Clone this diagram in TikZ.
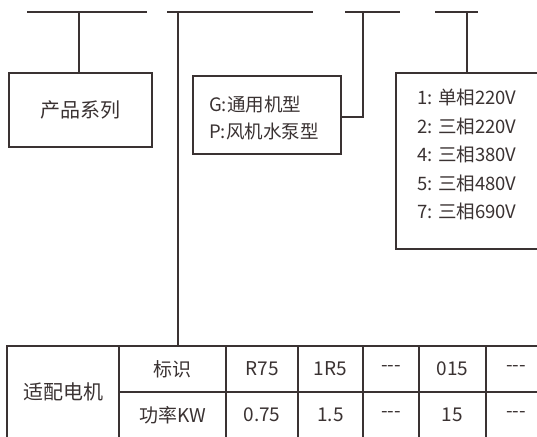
\documentclass[tikz,border=0pt]{standalone}
\usepackage{fontspec}
\setmainfont{Noto Sans CJK SC}
\definecolor{ink}{RGB}{58,50,50}
\begin{document}
\begin{tikzpicture}[x=1pt,y=-1pt,
  ln/.style={draw=ink,line width=1.8pt},
  boxn/.style={ln,rectangle,inner sep=0pt,anchor=north west},
  cell/.style={ln,rectangle,inner sep=0pt,font=\fontsize{19}{22}\selectfont,text=ink},
  txt/.style={text=ink,inner sep=0pt}]
\useasboundingbox (0,0) rectangle (537,436);
\clip (0,0) rectangle (537,436);
% top bars
\coordinate (b1l) at (27,12); \coordinate (b1r) at (147,12);
\coordinate (b2l) at (167,12); \coordinate (b2r) at (313,12);
\coordinate (b3l) at (345,12); \coordinate (b3r) at (400,12);
\coordinate (b4l) at (435,12); \coordinate (b4r) at (478,12);
\draw[ln] (b1l) -- (b1r);
\draw[ln] (b2l) -- (b2r);
\draw[ln] (b3l) -- (b3r);
\draw[ln] (b4l) -- (b4r);
% boxes
\node[boxn,minimum width=143pt,minimum height=74pt] (series) at (8,72) {};
\node[txt,font=\fontsize{20}{24}\selectfont] (seriest) at (series.center) {产品系列};
\node[boxn,minimum width=148pt,minimum height=78pt] (type) at (192,75) {};
\node[txt,anchor=west,font=\fontsize{18.5}{27}\selectfont,align=left] (typet) at (209,118) {G:通用机型\\P:风机水泵型};
\node[boxn,minimum width=160pt,minimum height=176pt] (volt) at (395,72) {};
\node[txt,anchor=north west,font=\fontsize{18.5}{28.5}\selectfont,align=left] (voltt) at (417,89) {1: 单相220V\\2: 三相220V\\4: 三相380V\\5: 三相480V\\7: 三相690V};
% connectors
\coordinate (v1) at (79,12);
\draw[ln] (v1) -- (series.north -| v1);
\coordinate (v2) at (178,12);
\coordinate (v2b) at (178,346);
\draw[ln] (v2) -- (v2b);
\coordinate (v3) at (363,12);
\coordinate (v3b) at (363,117);
\draw[ln] (v3) -- (v3b) -- (v3b -| type.east);
\coordinate (v4) at (467,12);
\draw[ln] (v4) -- (volt.north -| v4);
% table
\node[cell,minimum width=112pt,minimum height=92pt,font=\fontsize{20}{24}\selectfont] (motor) at (63,392) {适配电机};
\node[cell,minimum width=107pt,minimum height=46pt] (lab1) at (172.5,369) {标识};
\node[cell,minimum width=107pt,minimum height=46pt] (lab2) at (172.5,415) {功率KW};
\node[cell,minimum width=72pt,minimum height=46pt] (a1) at (262,369) {R75};
\node[cell,minimum width=72pt,minimum height=46pt] (a2) at (262,415) {0.75};
\node[cell,minimum width=65pt,minimum height=46pt] (b1) at (330.5,369) {1R5};
\node[cell,minimum width=65pt,minimum height=46pt] (b2) at (330.5,415) {1.5};
\node[cell,minimum width=56pt,minimum height=46pt] (c1) at (391,369) {-{}-{}-};
\node[cell,minimum width=56pt,minimum height=46pt] (c2) at (391,415) {-{}-{}-};
\node[cell,minimum width=67pt,minimum height=46pt] (d1) at (452.5,369) {015};
\node[cell,minimum width=67pt,minimum height=46pt] (d2) at (452.5,415) {15};
\node[cell,minimum width=60pt,minimum height=46pt] (e1) at (516,369) {-{}-{}-};
\node[cell,minimum width=60pt,minimum height=46pt] (e2) at (516,415) {-{}-{}-};
\end{tikzpicture}
\end{document}
